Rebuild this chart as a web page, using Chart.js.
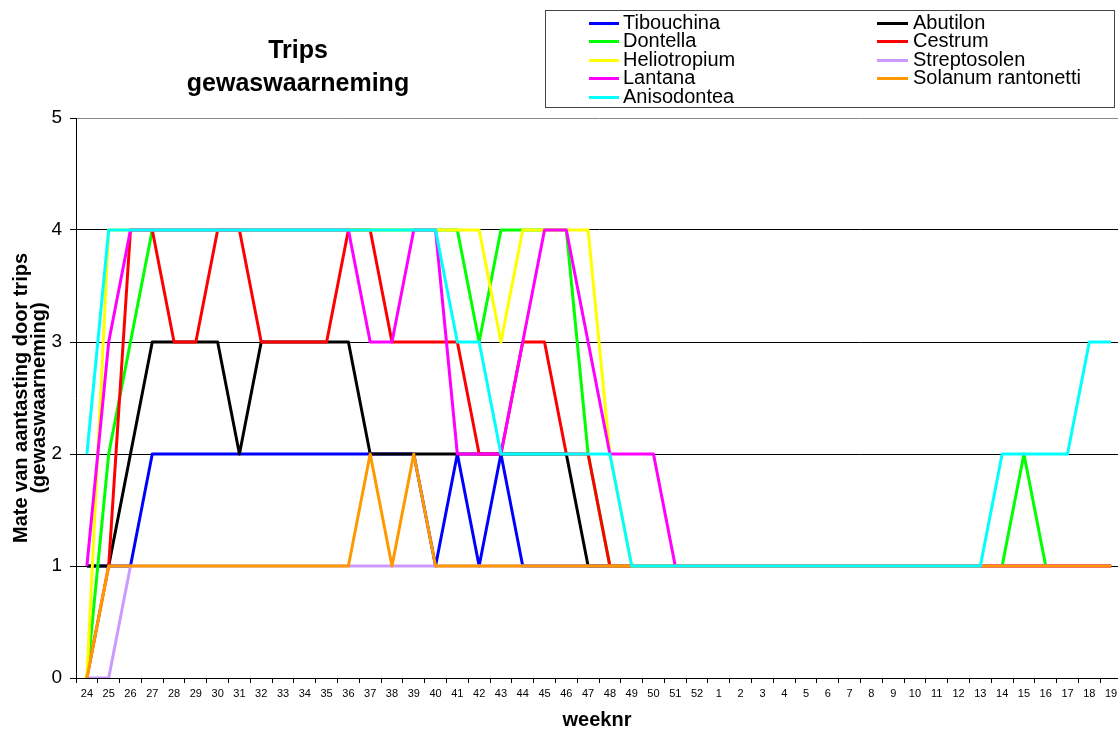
<!DOCTYPE html>
<html>
<head>
<meta charset="utf-8">
<script src="https://cdn.jsdelivr.net/npm/chart.js@4/dist/chart.umd.min.js"></script>
<style>
html,body{margin:0;padding:0;background:#fff;overflow:hidden;}
canvas{display:block;}
</style>
</head>
<body>
<canvas id="c" width="1124" height="731"></canvas>
<script>
const weeks = ['24','25','26','27','28','29','30','31','32','33','34','35','36','37','38','39','40','41','42','43','44','45','46','47','48','49','50','51','52','1','2','3','4','5','6','7','8','9','10','11','12','13','14','15','16','17','18','19'];
const yTicks = [0,1,2,3,4,5];

const tibouchina   = [1,1,1,2, 2,2,2,2,2,2,2,2,2,2,2,2, 1,2,1,2,1, 1,1,1,1,1,1,1,1,1,1,1,1,1,1,1,1,1,1,1,1,1,1,1,1,1,1,1];
const abutilon     = [1,1,2,3,3,3,3,2,3,3,3,3,3, 2, 2,2,2,2,2,2,2,2,2, 1, 1,1,1,1,1,1,1,1,1,1,1,1,1,1,1,1,1,1,1,1,1,1,1,1];
const dontella     = [0,2,3,4, 4,4,4,4,4,4,4,4,4,4,4,4,4,4, 3,4,4,4,4, 2, 1, 1,1,1,1,1,1,1,1,1,1,1,1,1,1,1,1,1, 1,2,1,1,1,1];
const cestrum      = [0,1,4,4,3,3,4,4,3,3,3,3,4,4,3,3,3,3,2,2,3,3,2,2,1, 1,1,1,1,1,1,1,1,1,1,1,1,1,1,1,1,1,1,1,1,1,1,1];
const heliotropium = [0,4, 4,4,4,4,4,4,4,4,4,4,4,4,4,4,4,4,4, 3,4,4,4,4, 2, 1, 1,1,1,1,1,1,1,1,1,1,1,1,1,1,1,1,1,1,1,1,1,1];
const streptosolen = [0,0, 1,1,1,1,1,1,1,1,1,1,1,1,1,1,1,1,1,1,1,1,1,1,1,1,1,1,1,1,1,1,1,1,1,1,1,1,1,1,1,1,1,1,1,1,1,1];
const lantana      = [1,3,4, 4,4,4,4,4,4,4,4,4,4, 3,3,4,4,2,2,2,3,4,4,3,2,2,2,1, 1,1,1,1,1,1,1,1,1,1,1,1,1,1,1,1,1,1,1,1];
const solanum      = [0, 1,1,1,1,1,1,1,1,1,1,1,1, 2,1,2,1, 1,1,1,1,1,1,1,1,1,1,1,1,1,1,1,1,1,1,1,1,1,1,1,1,1,1,1,1,1,1,1];
const anisodontea  = [2, 4,4,4,4,4,4,4,4,4,4,4,4,4,4,4,4, 3,3, 2,2,2,2,2,2, 1,1,1,1,1,1,1,1,1,1,1,1,1,1,1,1,1, 2,2,2,2,3,3];

const seriesNames = ['Tibouchina','Abutilon','Dontella','Cestrum','Heliotropium','Streptosolen','Lantana','Solanum rantonetti','Anisodontea'];
const seriesData = [tibouchina, abutilon, dontella, cestrum, heliotropium, streptosolen, lantana, solanum, anisodontea];
const seriesColors = ['#0000FF','#000000','#00FF00','#FF0000','#FFFF00','#CC99FF','#FF00FF','#FF9900','#00FFFF'];

const datasets = seriesNames.map((n,i)=>({
  label:n, data:seriesData[i], borderColor:seriesColors[i], backgroundColor:seriesColors[i],
  borderWidth:3, borderJoinStyle:'round', pointRadius:0, pointHoverRadius:0, tension:0, fill:false,
  order: seriesNames.length-1-i
}));

const FONT = "'Liberation Sans', Arial, sans-serif";

const deco = {
  id:'deco',
  afterDraw(chart){
    const ctx = chart.ctx;
    ctx.save();
    ctx.fillStyle = '#000';
    ctx.font = "bold 25px " + FONT;
    ctx.textAlign = 'center';
    ctx.textBaseline = 'middle';
    ctx.fillText('Trips', 298, 51);
    ctx.fillText('gewaswaarneming', 298, 84);
    ctx.font = "bold 20px " + FONT;
    ctx.fillText('weeknr', 597, 720);
    ctx.save();
    ctx.translate(21, 398);
    ctx.rotate(-Math.PI/2);
    ctx.fillText('Mate van aantasting door trips', 0, 0);
    ctx.fillText('(gewaswaarneming)', 0, 18);
    ctx.restore();
    ctx.strokeStyle = '#444';
    ctx.lineWidth = 1;
    ctx.strokeRect(545.5, 10.5, 569, 97);
    ctx.font = "20px " + FONT;
    ctx.textAlign = 'left';
    const colX = [[589,619,623],[877,908,913]];
    seriesNames.forEach((n,i)=>{
      const row = Math.floor(i/2), col = i%2;
      const y = 22.5 + row*18.5;
      ctx.strokeStyle = seriesColors[i];
      ctx.lineWidth = 3;
      ctx.beginPath();
      ctx.moveTo(colX[col][0], Math.round(y)+0.5);
      ctx.lineTo(colX[col][1], Math.round(y)+0.5);
      ctx.stroke();
      ctx.fillStyle = '#000';
      ctx.fillText(n, colX[col][2], y+0.5);
    });
    ctx.restore();
  }
};

new Chart(document.getElementById('c'), {
  type:'line',
  data:{labels:weeks, datasets:datasets},
  options:{
    responsive:false, animation:false, devicePixelRatio:1,
    layout:{padding:{top:118,left:0,right:2,bottom:0}},
    plugins:{legend:{display:false}, title:{display:false}, tooltip:{enabled:false}},
    scales:{
      x:{
        type:'category', offset:true,
        grid:{offset:true, drawOnChartArea:false, drawTicks:true, tickLength:5, color:'#000', tickColor:'#000'},
        border:{display:true, color:'#000', width:1},
        ticks:{font:{family:FONT, size:11}, color:'#000', padding:4, maxRotation:0, minRotation:0, autoSkip:false},
        afterFit(s){ s.height = 53; }
      },
      y:{
        min:0, max:5,
        afterBuildTicks(s){ s.ticks = yTicks.map(v=>({value:v})); },
        grid:{drawTicks:true, tickLength:6, color:(c)=> (c.tick && c.tick.value===5) ? '#888' : '#000', tickColor:'#000', lineWidth:1},
        border:{display:true, color:'#000', width:1},
        ticks:{font:{family:FONT, size:19}, color:'#000', padding:8},
        afterFit(s){ s.width = 76; }
      }
    }
  },
  plugins:[deco]
});
</script>
</body>
</html>
